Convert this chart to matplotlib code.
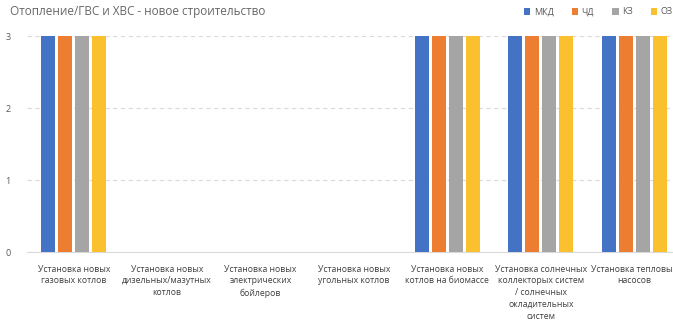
import numpy as np
import matplotlib
matplotlib.use("Agg")
import matplotlib.pyplot as plt

plt.rcParams['font.family'] = ['Open Sans', 'DejaVu Sans']

# --- DATA ---
categories = [
    "Установка новых\nгазовых котлов",
    "Установка новых\nдизельных/мазутных\nкотлов",
    "Установка новых\nэлектрических\nбойлеров",
    "Установка новых\nугольных котлов",
    "Установка новых\nкотлов на биомассе",
    "Установка солнечных\nколлекторых систем\n/ солнечных\nокладительных\nсистем",
    "Установка тепловых\nнасосов",
]
series_names = ["МКД", "ЧД", "КЗ", "ОЗ"]
mkd = [3, 0, 0, 0, 3, 3, 3]
chd = [3, 0, 0, 0, 3, 3, 3]
kz = [3, 0, 0, 0, 3, 3, 3]
oz = [3, 0, 0, 0, 3, 3, 3]
yticks = [0, 1, 2, 3]

colors = ['#4472C4', '#ED7D31', '#A5A5A5', '#FBC02D']
text_col = '#595959'
grid_col = '#D9D9D9'

W, H = 673, 325
fig = plt.figure(figsize=(W / 100, H / 100), dpi=100)
# axes box in pixels: left 27, right 681 (runs past the right edge), top 36, bottom 252
ax = fig.add_axes([27 / W, 1 - 252 / H, (681 - 27) / W, (252 - 36) / H])

x = np.arange(len(categories))
pitch = 0.182
width = 0.15
for i, (vals, name) in enumerate(zip([mkd, chd, kz, oz], series_names)):
    ax.bar(x + (i - 1.5) * pitch, vals, width=width, color=colors[i],
           label=name, zorder=3)

ax.set_xlim(-0.5, len(categories) - 0.5)
ax.set_ylim(0, 3)
ax.set_yticks(yticks)
ax.set_yticklabels([str(t) for t in yticks], fontsize=6.5, color=text_col)
ax.set_xticks(x)
ax.set_xticklabels(categories, fontsize=6.2, color='#3F3F3F',
                   linespacing=1.4, va='top')
ax.tick_params(axis='both', length=0)
ax.tick_params(axis='x', pad=9)
ax.tick_params(axis='y', pad=12)

for t in yticks[1:]:
    ax.axhline(t, color=grid_col, linestyle=(0, (4, 3)), linewidth=0.8, zorder=1)

for side in ['top', 'right', 'left']:
    ax.spines[side].set_visible(False)
ax.spines['bottom'].set_color(grid_col)
ax.spines['bottom'].set_linewidth(0.8)

fig.text(10 / W, 1 - 11 / H, "Отопление/ГВС и ХВС - новое строительство",
         fontsize=8.5, color='#666666', va='center', ha='left')

fig.legend(loc='center right', bbox_to_anchor=(1.0, 1 - 12 / H), ncol=4,
           frameon=False, fontsize=6.5, labelcolor=text_col,
           handlelength=0.7, handleheight=0.7, handletextpad=0.4,
           columnspacing=2.0, borderaxespad=0, borderpad=0)

fig.savefig("out.png", dpi=100)
